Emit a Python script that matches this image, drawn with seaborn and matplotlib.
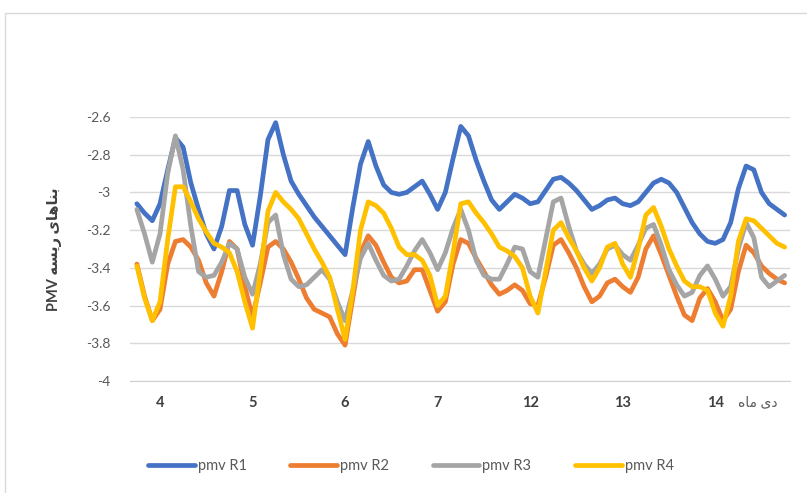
import pandas as pd
import seaborn as sns
import matplotlib.pyplot as plt
from matplotlib.patches import Rectangle

# === Données (pas de 2 h, 7 jours) ===
hours = list(range(0, 169, 2))
day_labels = ["4", "5", "6", "7", "12", "13", "14"]
day_tick_hours = [6, 30, 54, 78, 102, 126, 150]
series_names = ["pmv R1", "pmv R2", "pmv R3", "pmv R4"]

pmv_r1 = [-3.06, -3.11, -3.15, -3.06, -2.88, -2.71, -2.76, -2.95, -3.09, -3.22,
          -3.30, -3.18, -2.99, -2.99, -3.17, -3.28, -3.02, -2.72, -2.63, -2.80,
          -2.94, -3.01, -3.07, -3.13, -3.18, -3.23, -3.28, -3.33, -3.08, -2.85,
          -2.73, -2.86, -2.96, -3.00, -3.01, -3.00, -2.97, -2.94, -3.01, -3.09,
          -3.00, -2.82, -2.65, -2.70, -2.83, -2.94, -3.04, -3.09, -3.05, -3.01,
          -3.03, -3.06, -3.05, -2.99, -2.93, -2.92, -2.95, -2.99, -3.04, -3.09,
          -3.07, -3.04, -3.03, -3.06, -3.07, -3.05, -3.00, -2.95, -2.93, -2.95,
          -3.00, -3.08, -3.16, -3.22, -3.26, -3.27, -3.25, -3.16, -2.98, -2.86,
          -2.88, -3.00, -3.06, -3.09, -3.12]
pmv_r2 = [-3.38, -3.55, -3.68, -3.62, -3.38, -3.26, -3.25, -3.29, -3.36, -3.48,
          -3.55, -3.42, -3.26, -3.30, -3.50, -3.66, -3.48, -3.29, -3.26, -3.30,
          -3.37, -3.46, -3.56, -3.62, -3.64, -3.66, -3.75, -3.81, -3.56, -3.32,
          -3.23, -3.28, -3.37, -3.45, -3.48, -3.47, -3.41, -3.41, -3.52, -3.63,
          -3.58, -3.38, -3.25, -3.27, -3.35, -3.42, -3.49, -3.54, -3.52, -3.49,
          -3.52, -3.59, -3.60, -3.45, -3.28, -3.25, -3.32, -3.40, -3.50, -3.58,
          -3.55, -3.48, -3.46, -3.50, -3.53, -3.45, -3.30, -3.23, -3.33, -3.44,
          -3.55, -3.65, -3.68, -3.56, -3.51, -3.58, -3.68, -3.62, -3.42, -3.28,
          -3.32, -3.39, -3.43, -3.46, -3.48]
pmv_r3 = [-3.09, -3.22, -3.37, -3.22, -2.90, -2.70, -2.88, -3.18, -3.42, -3.45,
          -3.44, -3.37, -3.27, -3.30, -3.45, -3.54, -3.38, -3.16, -3.12, -3.33,
          -3.46, -3.50, -3.49, -3.45, -3.41, -3.46, -3.58, -3.68, -3.52, -3.35,
          -3.27, -3.36, -3.44, -3.47, -3.46, -3.39, -3.31, -3.25, -3.32, -3.41,
          -3.32, -3.19, -3.09, -3.20, -3.36, -3.44, -3.46, -3.46, -3.38, -3.29,
          -3.30, -3.42, -3.45, -3.25, -3.05, -3.03, -3.18, -3.31, -3.38, -3.43,
          -3.38, -3.30, -3.28, -3.33, -3.36, -3.28, -3.19, -3.17, -3.28, -3.41,
          -3.49, -3.55, -3.53, -3.44, -3.39, -3.46, -3.55, -3.50, -3.30, -3.16,
          -3.24, -3.45, -3.50, -3.47, -3.44]
pmv_r4 = [-3.39, -3.56, -3.68, -3.58, -3.25, -2.97, -2.97, -3.05, -3.14, -3.21,
          -3.27, -3.29, -3.32, -3.42, -3.58, -3.72, -3.42, -3.10, -3.00, -3.05,
          -3.09, -3.14, -3.22, -3.30, -3.37, -3.45, -3.62, -3.78, -3.52, -3.20,
          -3.05, -3.07, -3.11, -3.19, -3.29, -3.33, -3.33, -3.36, -3.44, -3.60,
          -3.55, -3.32, -3.06, -3.05, -3.11, -3.16, -3.22, -3.29, -3.31, -3.34,
          -3.40, -3.55, -3.64, -3.42, -3.20, -3.16, -3.24, -3.31, -3.40, -3.47,
          -3.40, -3.29, -3.27, -3.38, -3.45, -3.30, -3.12, -3.08, -3.18, -3.30,
          -3.39, -3.47, -3.50, -3.50, -3.52, -3.64, -3.71, -3.55, -3.26, -3.14,
          -3.15, -3.19, -3.23, -3.27, -3.29]

couleurs = ["#4472C4", "#ED7D31", "#A5A5A5", "#FFC000"]

# textes persans déjà mis en forme (formes de présentation, ordre visuel)
ylabel_txt = "PMV \uFEEA\uFEB4\uFEF3\uFEAD \uFEEF\uFE8E\uFEEB\uFE8E\uFEE8\uFE91"
xlabel_txt = "\uFEE9\uFE8E\uFEE3 \uFEEF\uFEA9"

# === Table longue pour seaborn ===
frames = []
for nom, vals in zip(series_names, [pmv_r1, pmv_r2, pmv_r3, pmv_r4]):
    frames.append(pd.DataFrame({"heure": hours, "pmv": vals, "serie": nom}))
df = pd.concat(frames, ignore_index=True)

sns.set_style("white")
plt.rcParams["font.family"] = ["Lato", "DejaVu Sans"]

fig = plt.figure(figsize=(8.07, 4.93), dpi=100)
ax = fig.add_axes([0.161, 0.2272, 0.818, 0.5355])

sns.lineplot(data=df, x="heure", y="pmv", hue="serie", palette=couleurs,
             linewidth=3.4, ax=ax, solid_capstyle="round", solid_joinstyle="round")

ax.set_ylim(-4, -2.6)
ax.set_xlim(-1.8, 169.4)
ax.set_yticks([-4, -3.8, -3.6, -3.4, -3.2, -3, -2.8, -2.6])
ax.set_yticklabels(["-4", "-3.8", "-3.6", "-3.4", "-3.2", "-3", "-2.8", "-2.6"])
ax.set_xticks(day_tick_hours)
ax.set_xticklabels(day_labels, fontweight="bold")
ax.tick_params(axis="y", length=0, pad=14, labelsize=10, labelcolor="#595959")
ax.tick_params(axis="x", length=0, pad=11, labelsize=10.5, labelcolor="#404040")
ax.grid(axis="y", color="#d9d9d9", linewidth=1)
ax.set_axisbelow(True)
for s in ["top", "right", "left"]:
    ax.spines[s].set_visible(False)
ax.spines["bottom"].set_color("#d0d0d0")
ax.set_xlabel("")
ax.set_ylabel(ylabel_txt, fontsize=10.5, fontweight="bold", color="#404040", labelpad=17)

fig.text(758 / 807, 1 - 402 / 493, xlabel_txt, ha="center", va="center",
         fontsize=10, color="#595959")

leg = ax.legend(loc="center", bbox_to_anchor=(0.509, 0.055), bbox_transform=fig.transFigure,
                ncol=4, frameon=False, fontsize=10.5, handlelength=3.2, columnspacing=3.0,
                handletextpad=0.2)
for t in leg.get_texts():
    t.set_color("#595959")
for h in leg.get_lines():
    h.set_linewidth(3.4)

# cadre du graphique
fig.patches.append(Rectangle((5 / 807, -0.1), 1.2, 1 - 13 / 493 + 0.1,
                             transform=fig.transFigure, fill=False,
                             edgecolor="#d9d9d9", linewidth=1))

fig.savefig("out.png", dpi=100)
